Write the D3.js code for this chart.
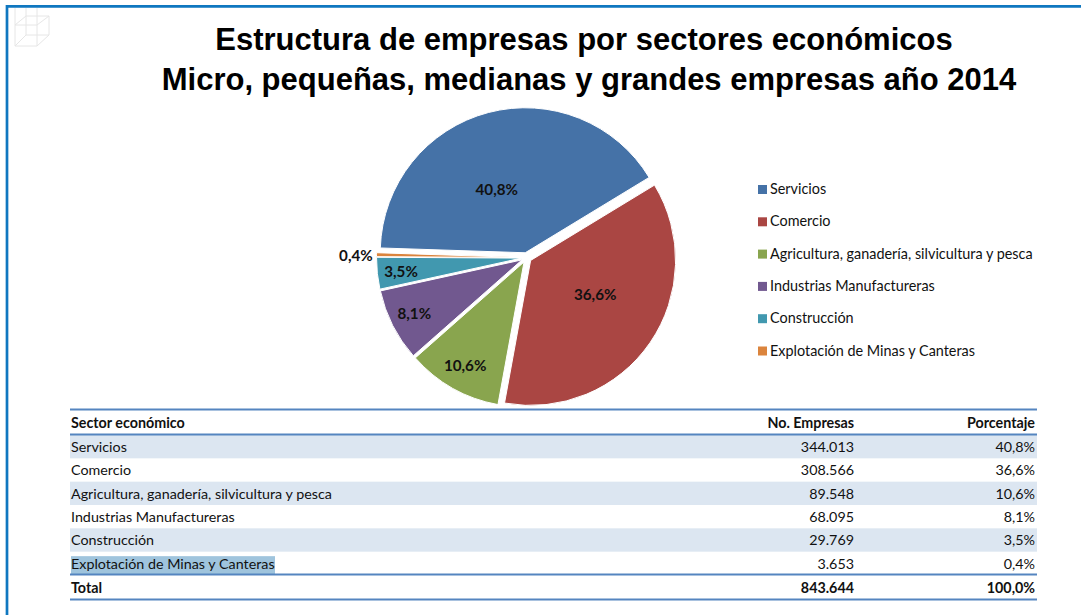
<!DOCTYPE html>
<html><head><meta charset="utf-8">
<script src="https://cdn.jsdelivr.net/npm/d3@7"></script>
<style>html,body{margin:0;padding:0;background:#fff}svg{display:block}
text{fill:#111}</style></head><body>
<svg id="c" width="1081" height="615"></svg>
<script>
const titleLines = ["Estructura de empresas por sectores económicos","Micro, pequeñas, medianas y grandes empresas año 2014"];
const sectors = ["Servicios","Comercio","Agricultura, ganadería, silvicultura y pesca","Industrias Manufactureras","Construcción","Explotación de Minas y Canteras"];
const empresas = [344013,308566,89548,68095,29769,3653];
const empresasLabels = ["344.013","308.566","89.548","68.095","29.769","3.653"];
const pctLabels = ["40,8%","36,6%","10,6%","8,1%","3,5%","0,4%"];
const headers = ["Sector económico","No. Empresas","Porcentaje"];
const totalRow = ["Total","843.644","100,0%"];
const colors = ["#4572a7","#aa4643","#89a54e","#71588f","#4198af","#db843d"];

const svg = d3.select("#c");
const bodyFont = "Lato, Carlito, sans-serif";
const border = "#0f77c0", rule = "#5585c0", band = "#dce6f1";

// frame
svg.append("path").attr("d","M7,615V6.4H1081").attr("fill","none").attr("stroke",border).attr("stroke-width",2.7);

// decorative cube
svg.append("path").attr("fill","none").attr("stroke","#e6e6e6").attr("stroke-width",1)
  .attr("d","M15,8V46H37V8M15,25H37M15,46L26,35M37,46L49,35V16L37,25M15,25L26,16H49M26,8V35H49");

// title
svg.append("g").selectAll("text").data(titleLines).join("text")
  .attr("x",(d,i)=>i?589:584).attr("y",(d,i)=>i?89.5:49.5)
  .attr("text-anchor","middle").attr("font-family","'Liberation Sans',Arial,sans-serif")
  .attr("font-weight",700).attr("font-size",31).style("fill","#000").text(d=>d);

// pie
const cx=526.5, cy=257.6, R=145, explode=5, startDeg=271.9;
const pie = d3.pie().sort(null).startAngle(startDeg*Math.PI/180).endAngle((startDeg+360)*Math.PI/180);
const arc = d3.arc().innerRadius(0).outerRadius(R);
const arcs = pie(empresas);
const labelFactor=[0.51,0.55,0.86,0.86,0.87,1.17];
const labelDX=[-11,3,0,-1,0,-1], labelDY=[3.5,-7.5,-0.5,0.5,1.5,1.5];
const g = svg.append("g").attr("transform",`translate(${cx},${cy})`);
const offs = d=>{const m=(d.startAngle+d.endAngle)/2;return [Math.sin(m),-Math.cos(m)];};
g.selectAll("path").data(arcs).join("path")
  .attr("d",arc).attr("fill",(d,i)=>colors[i]).attr("stroke","#fff").attr("stroke-width",1)
  .attr("transform",d=>{const [x,y]=offs(d);return `translate(${x*explode},${y*explode})`;});
g.selectAll("text").data(arcs).join("text")
  .attr("x",(d,i)=>offs(d)[0]*R*labelFactor[i]+labelDX[i])
  .attr("y",(d,i)=>offs(d)[1]*R*labelFactor[i]+5+labelDY[i])
  .attr("text-anchor","middle").attr("font-family",bodyFont).attr("font-weight",700).attr("font-size",15.2)
  .text((d,i)=>pctLabels[i]);

// legend
const ly = d3.scalePoint().domain(sectors).range([189.5,351]);
const lg = svg.append("g").selectAll("g").data(sectors).join("g");
lg.append("rect").attr("x",758).attr("y",d=>ly(d)-4.5).attr("width",9).attr("height",9).attr("fill",(d,i)=>colors[i]);
lg.append("text").attr("x",770).attr("y",d=>ly(d)+4.5).attr("font-family",bodyFont).attr("font-size",14.4).text(d=>d);

// table
const X0=70, X1=1037, colA=71, colB=854, colC=1035;
const ry = d3.scaleBand().domain(sectors).range([435,575]);
const T = svg.append("g").attr("font-family",bodyFont).attr("font-size",14.3);
T.selectAll("rect.b").data(sectors).join("rect").attr("class","b")
  .attr("x",X0).attr("width",X1-X0).attr("y",d=>ry(d)).attr("height",ry.bandwidth())
  .attr("fill",(d,i)=>i%2?"none":band);
T.append("rect").attr("x",X0+1).attr("y",ry(sectors[5])+4.5).attr("width",204).attr("height",18).attr("fill","#9fc4dd");
[409.5,434.5,574.5,599.5].forEach(y=>T.append("line").attr("x1",X0).attr("x2",X1).attr("y1",y).attr("y2",y).attr("stroke",rule).attr("stroke-width",1.9));
const mid=d=>ry(d)+ry.bandwidth()/2+5.4;
const rows = T.selectAll("g.r").data(sectors).join("g").attr("class","r");
rows.append("text").attr("x",colA).attr("y",mid).text(d=>d);
rows.append("text").attr("x",colB).attr("y",mid).attr("text-anchor","end").text((d,i)=>empresasLabels[i]);
rows.append("text").attr("x",colC).attr("y",mid).attr("text-anchor","end").text((d,i)=>pctLabels[i]);
[[headers,428],[totalRow,592.5]].forEach(([r,y])=>{
  [colA,colB,colC].forEach((x,i)=>T.append("text").attr("x",x).attr("y",y).attr("font-weight",700)
    .attr("text-anchor",i?"end":"start").text(r[i]));
});
</script></body></html>
